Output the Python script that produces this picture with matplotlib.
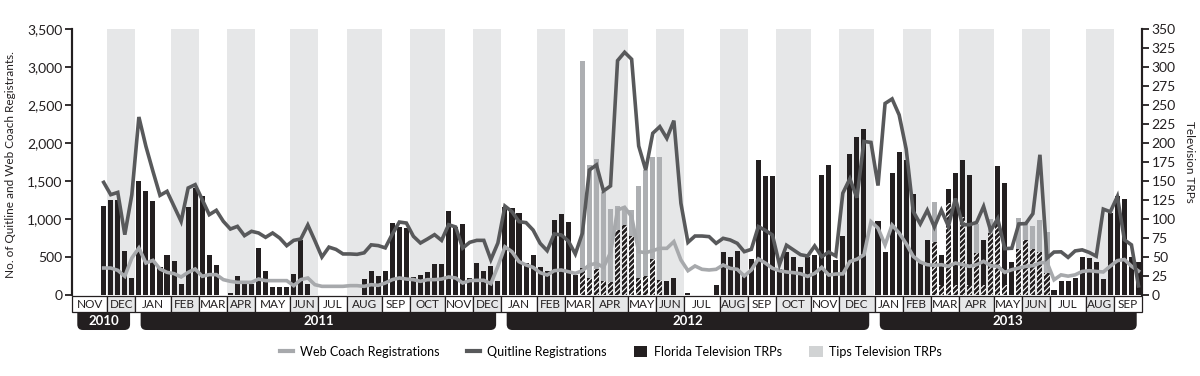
import numpy as np
import matplotlib
matplotlib.use("Agg")
import matplotlib.pyplot as plt
from matplotlib.patches import Rectangle, FancyBboxPatch, Patch
from matplotlib.lines import Line2D
from matplotlib.ticker import StrMethodFormatter, MultipleLocator
import matplotlib.transforms as mtransforms

plt.rcParams['font.family'] = ['Lato', 'DejaVu Sans']
plt.rcParams['hatch.linewidth'] = 2.0

# months on the x axis (weekly data, Nov 2010 - Sep 2013)
months = ['NOV', 'DEC',
          'JAN', 'FEB', 'MAR', 'APR', 'MAY', 'JUN', 'JUL', 'AUG', 'SEP', 'OCT', 'NOV', 'DEC',
          'JAN', 'FEB', 'MAR', 'APR', 'MAY', 'JUN', 'JUL', 'AUG', 'SEP', 'OCT', 'NOV', 'DEC',
          'JAN', 'FEB', 'MAR', 'APR', 'MAY', 'JUN', 'JUL', 'AUG', 'SEP']
month_weeks = [5, 4,
               5, 4, 4, 4, 5, 4, 4, 5, 4, 5, 4, 4,
               5, 4, 4, 5, 4, 4, 5, 4, 4, 5, 4, 5,
               4, 4, 4, 5, 4, 4, 5, 4, 4]
years = ['2010', '2011', '2012', '2013']
year_months = [2, 12, 12, 9]

nan = np.nan
# Florida television TRPs per week
florida = [0, 0, 0, 0, 117, 125, 125, 58, 23,
           150, 137, 124, 37, 52, 45, 14, 116, 141, 130, 52, 39, 0,
           3, 25, 15, 15, 62, 32, 11, 10, 11, 28, 73, 15, 0,
           0, 0, 0, 0, 0, 0, 21, 32, 25, 32, 95, 89, 88,
           24, 26, 30, 41, 41, 110, 89, 94, 22, 42, 31, 38, 19,
           116, 115, 108, 42, 52, 37, 31, 99, 107, 96, 26, 35, 23,
           34, 18, 17, 85, 92, 77, 22, 25, 48, 20, 19, 22, 0,
           3, 0, 0, 0, 13, 56, 50, 58, 26, 47, 177, 157, 156,
           34, 56, 50, 37, 50, 53, 158, 171, 46, 77, 185, 208, 219, 0,
           97, 56, 161, 188, 178, 133, 44, 73, 70, 53, 140, 160,
           178, 158, 55, 72, 82, 170, 148, 43, 61, 73, 61, 56, 29,
           7, 18, 19, 23, 50, 49, 43, 21, 108, 130, 126, 50, 43]

# Tips (CDC) television TRPs per week
tips = [0] * 152
tips_2012 = [308, 171, 179, 135, 113, 117, 114, 112, 143, 165, 182, 181]   # weeks 72-83
tips_2013 = [123, 13, 121, 13, 103, 13, 94, 13, 100, 92, 13, 0,
             101, 96, 91, 99, 83]                                          # weeks 122-138
tips[72:84] = tips_2012
tips[122:139] = tips_2013

quitline = [nan, nan, nan, nan, 1482, 1320, 1350, 794, 1320,
            2342, 1956, 1627, 1311, 1364, 1167, 969, 1408, 1452, 1254, 1057, 1114, 969,
            868, 903, 781, 838, 816, 759, 816, 750, 649, 719, 737, 921, 715,
            500, 630, 600, 540, 540, 535, 555, 660, 650, 620, 800, 960, 947,
            772, 684, 737, 794, 719, 925, 895, 618, 693, 719, 719, 465, 684,
            1170, 1097, 965, 952, 855, 680, 583, 803, 790, 711, 540, 812, 1645,
            1711, 1369, 1435, 3084, 3194, 3102, 1961, 1645, 2128, 2215, 2062, 2294, 1206,
            693, 776, 776, 768, 680, 746, 724, 680, 570, 601, 900, 850, 790,
            400, 655, 592, 530, 513, 645, 504, 565, 513, 1340, 1530, 1280, 2020, 2008,
            1440, 2520, 2580, 2370, 1920, 1100, 935, 1115, 895, 1115, 905, 1270,
            925, 925, 955, 1165, 845, 1005, 610, 615, 935, 940, 1070, 1845, 485,
            565, 568, 495, 580, 594, 560, 511, 1130, 1095, 1296, 726, 660, 120]

webcoach = [nan, nan, nan, nan, 355, 355, 325, 246, 487,
            618, 421, 456, 342, 298, 281, 237, 298, 342, 246, 268, 268, 202,
            180, 167, 167, 167, 210, 189, 189, 189, 189, 123, 202, 224, 136,
            114, 114, 114, 114, 123, 123, 114, 136, 127, 158, 202, 224, 210,
            202, 180, 202, 202, 210, 237, 224, 158, 189, 193, 193, 149, 377,
            634, 570, 439, 395, 364, 294, 263, 320, 329, 307, 285, 320, 395,
            417, 364, 557, 1119, 1154, 1031, 570, 557, 583, 614, 614, 702, 461,
            320, 382, 338, 329, 338, 395, 351, 338, 250, 329, 475, 420, 352,
            320, 303, 294, 280, 245, 285, 364, 263, 276, 278, 440, 470, 528, 965,
            880, 660, 920, 815, 675, 509, 434, 399, 390, 399, 377, 421,
            399, 377, 399, 443, 386, 377, 298, 333, 355, 377, 386, 421, 430,
            200, 265, 248, 265, 310, 320, 310, 303, 380, 452, 467, 380, 315]

BLACK = '#231f20'
TIPS_GREY = '#adafb2'
BAND = '#e6e7e8'
WEB = '#a7a9ac'
QUIT = '#58595b'

fig = plt.figure(figsize=(12, 3.76), dpi=100)
ax = fig.add_axes([72 / 1200, (376 - 295) / 376, 1070 / 1200, 266 / 376])
ax2 = ax.twinx()

nweeks = sum(month_weeks)
weeks = np.arange(nweeks) + 0.5
edges = np.concatenate([[0], np.cumsum(month_weeks)])

# alternating month bands
for i in range(len(months)):
    if i % 2 == 1:
        ax.axvspan(edges[i], edges[i + 1], color=BAND, zorder=0, lw=0)

# TRP bars; the part where both campaigns overlap is hatched
fl = np.array(florida, dtype=float)
tp = np.array(tips, dtype=float)
both = np.minimum(fl, tp)
bw = 0.72
ax.bar(weeks, tp, width=bw, color=TIPS_GREY, zorder=2, lw=0)
ax.bar(weeks, fl, width=bw, color=BLACK, zorder=3, lw=0)
ax.bar(weeks, both, width=bw, facecolor='white', edgecolor=BLACK, hatch='//////', lw=0, zorder=4)

ax.set_xlim(0, nweeks)
ax.set_ylim(0, 350)
ax2.set_ylim(0, 3500)

# registration lines
ax2.plot(weeks, webcoach, color=WEB, lw=2.6, solid_joinstyle='miter', zorder=5)
ax2.plot(weeks, quitline, color=QUIT, lw=2.6, solid_joinstyle='miter', zorder=6)

# axes styling
ax.yaxis.tick_right()
ax2.yaxis.tick_left()
for a in (ax, ax2):
    a.set_xticks([])
    for s in ('top', 'bottom'):
        a.spines[s].set_visible(False)
    for s in ('left', 'right'):
        a.spines[s].set_linewidth(1.5)
        a.spines[s].set_color(BLACK)
ax.yaxis.set_major_locator(MultipleLocator(25))
ax2.yaxis.set_major_locator(MultipleLocator(500))
ax2.yaxis.set_major_formatter(StrMethodFormatter('{x:,.0f}'))
ax.tick_params(axis='y', length=5, width=1.3, labelsize=10, pad=2, colors=BLACK)
ax2.tick_params(axis='y', length=5, width=1.3, labelsize=10, pad=2, colors=BLACK)

# month boxes and year bars below the axis
trans = mtransforms.blended_transform_factory(ax2.transData, ax2.transAxes)
ax2.set_xlim(0, nweeks)
box_top, box_bot = -0.004, -0.064
for i, m in enumerate(months):
    r = Rectangle((edges[i], box_bot), month_weeks[i], box_top - box_bot, transform=trans,
                  facecolor=BAND if i % 2 == 1 else 'white', edgecolor=BLACK, lw=0.9,
                  clip_on=False, zorder=10)
    ax2.add_patch(r)
    ax2.text((edges[i] + edges[i + 1]) / 2, (box_top + box_bot) / 2, m, transform=trans,
             ha='center', va='center', fontsize=8.5, color=BLACK, zorder=11, clip_on=False)

yedges = np.concatenate([[0], np.cumsum(year_months)])
px_per_week = 1070 / nweeks
aspect = px_per_week / 266
for j, y in enumerate(years):
    x0 = edges[yedges[j]] + 0.75
    x1 = edges[yedges[j + 1]] - 0.75
    fb = FancyBboxPatch((x0, -0.1316), x1 - x0, 0.1, transform=trans,
                        boxstyle='round,pad=0,rounding_size=0.8', mutation_aspect=aspect,
                        facecolor=BLACK, edgecolor='none', clip_on=False, zorder=9)
    ax2.add_patch(fb)
    ax2.text((x0 + x1) / 2, -0.098, y, transform=trans, ha='center', va='center',
             fontsize=9.5, fontweight='bold', color='white', zorder=12, clip_on=False)

# axis titles
fig.text(11 / 1200, 1 - 165 / 376, 'No. of Quitline and Web Coach Registrants.',
         rotation=90, ha='center', va='center', fontsize=8.5, color=BLACK)
fig.text(1189 / 1200, 1 - 162 / 376, 'Television TRPs',
         rotation=270, ha='center', va='center', fontsize=8.5, color=BLACK)

# legend
handles = [Line2D([0], [0], color=WEB, lw=3),
           Line2D([0], [0], color=QUIT, lw=3),
           Patch(facecolor=BLACK, edgecolor='none'),
           Patch(facecolor='#d1d3d4', edgecolor='none')]
labels = ['Web Coach Registrations', 'Quitline Registrations',
          'Florida Television TRPs', 'Tips Television TRPs']
fig.legend(handles, labels, loc='center', bbox_to_anchor=(0.509, 0.064), ncol=4,
           frameon=False, fontsize=9, handlelength=1.1, handleheight=1.0,
           columnspacing=2.2, handletextpad=0.5)

fig.savefig('out.png', dpi=100)
